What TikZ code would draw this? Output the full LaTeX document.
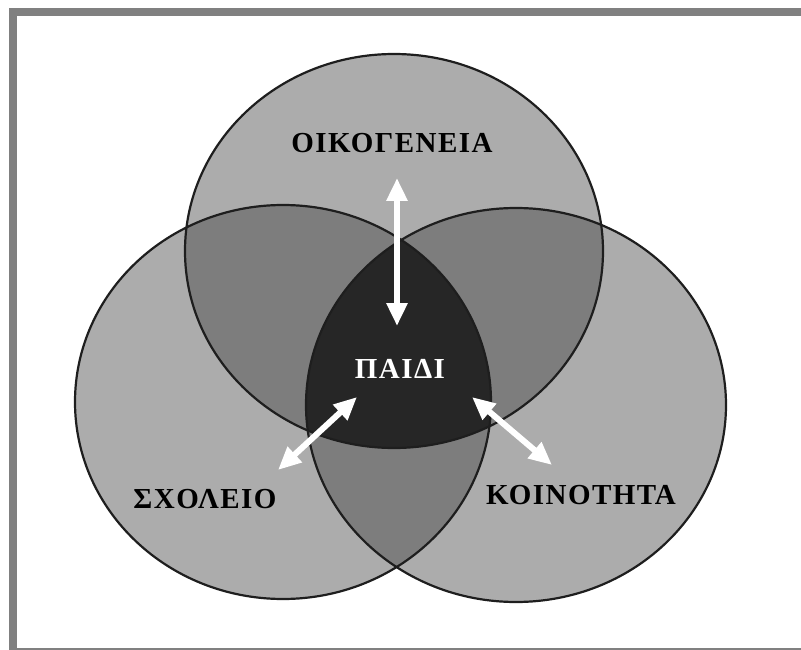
\documentclass[tikz,border=0pt]{standalone}
\usepackage{fontspec}
\setmainfont{Liberation Serif}
\newfontfamily\lblfont[LetterSpace=5]{Liberation Serif}
\usetikzlibrary{arrows.meta}
\definecolor{frameC}{RGB}{128,128,128}
\definecolor{oneC}{RGB}{172,172,172}
\definecolor{twoC}{RGB}{125,125,125}
\definecolor{threeC}{RGB}{38,38,38}
\definecolor{edgeC}{RGB}{30,30,30}
\tikzset{
  lbl/.style={font=\lblfont\bfseries\fontsize{29}{29}\selectfont, inner sep=0pt},
  warrow/.style={draw=white, line width=6pt, {Triangle[length=23pt,width=20pt]}-{Triangle[length=23pt,width=20pt]}},
  rim/.style={draw=edgeC, line width=2.2pt}
}
\def\topE{(394,251) ellipse [x radius=209pt, y radius=197pt]}
\def\leftE{(283,402) ellipse [x radius=208pt, y radius=197pt]}
\def\rightE{(516,405) ellipse [x radius=210pt, y radius=197pt]}
\begin{document}
\begin{tikzpicture}[x=1pt,y=-1pt]
\useasboundingbox (0,0) rectangle (801,650);
% frame
\fill[frameC] (9,8) rectangle (801,16);
\fill[frameC] (9,8) rectangle (17,650);
\fill[frameC] (9,647.5) rectangle (801,650);
% single areas
\fill[oneC] \topE;
\fill[oneC] \leftE;
\fill[oneC] \rightE;
% pairwise overlaps
\begin{scope}\clip \topE; \fill[twoC] \leftE; \end{scope}
\begin{scope}\clip \topE; \fill[twoC] \rightE; \end{scope}
\begin{scope}\clip \leftE; \fill[twoC] \rightE; \end{scope}
% triple overlap
\begin{scope}\clip \topE; \clip \leftE; \fill[threeC] \rightE; \end{scope}
% outlines
\draw[rim] \topE;
\draw[rim] \leftE;
\draw[rim] \rightE;
% labels
\node[lbl] (fam) at (392,143) {ΟΙΚΟΓΕΝΕΙΑ};
\node[lbl, text=white] (child) at (400,369) {ΠΑΙΔΙ};
\node[lbl] (school) at (205,499) {ΣΧΟΛΕΙΟ};
\node[lbl] (comm) at (581,495) {ΚΟΙΝΟΤΗΤΑ};
% arrows
\coordinate (v1) at (397,178);
\coordinate (v2) at (397,326);
\coordinate (l1) at (357,397);
\coordinate (l2) at (278,470);
\coordinate (r1) at (472,397);
\coordinate (r2) at (552,465);
\draw[warrow] (v1) -- (v2);
\draw[warrow] (l1) -- (l2);
\draw[warrow] (r1) -- (r2);
\end{tikzpicture}
\end{document}
